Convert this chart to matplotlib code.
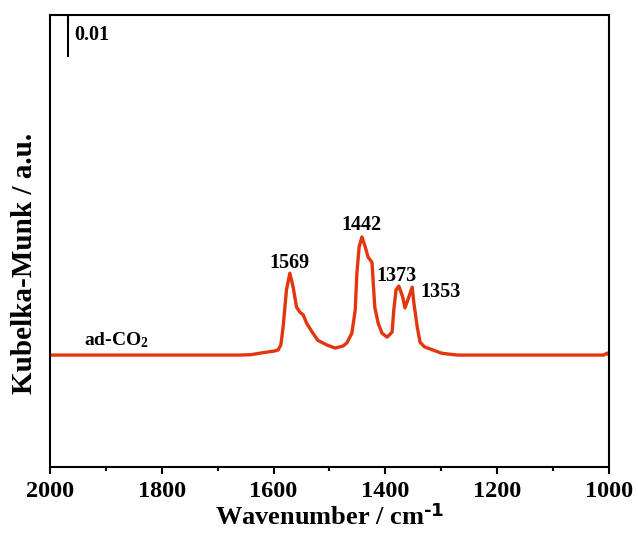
import matplotlib
matplotlib.use('Agg')
import matplotlib.pyplot as plt
from matplotlib.ticker import MultipleLocator

plt.rcParams['font.family'] = 'Liberation Serif'
plt.rcParams['font.weight'] = 'bold'
plt.rcParams['mathtext.default'] = 'regular'

# DRIFTS spectrum, ad-CO2
wavenumber = [2000, 1950, 1900, 1850, 1800, 1750, 1700, 1660, 1640, 1624,
              1610, 1600, 1592, 1587, 1583, 1577, 1571, 1565, 1559, 1553,
              1547, 1541, 1531, 1521, 1505, 1490, 1476, 1469, 1460, 1454,
              1451, 1447, 1442, 1436, 1431, 1424, 1419, 1413, 1406, 1397,
              1388, 1385, 1381, 1376, 1369, 1365, 1360, 1352, 1349, 1343,
              1338, 1330, 1315, 1300, 1290, 1270, 1200, 1100, 1010, 1003, 1000]
km = [0.0, 0.0, 0.0, 0.0, 0.0, 0.0, 0.0, 0.0, 0.0001, 0.0005,
      0.0008, 0.0010, 0.0013, 0.0026, 0.0072, 0.0167, 0.0210, 0.0174, 0.0123, 0.0110,
      0.0103, 0.0082, 0.0059, 0.0038, 0.0026, 0.0018, 0.0023, 0.0031, 0.0056, 0.0115,
      0.0210, 0.0277, 0.0303, 0.0277, 0.0251, 0.0238, 0.0123, 0.0082, 0.0056, 0.0046,
      0.0059, 0.0115, 0.0167, 0.0177, 0.0149, 0.0121, 0.0141, 0.0174, 0.0133, 0.0072,
      0.0033, 0.0021, 0.0013, 0.0005, 0.0003, 0.0, 0.0, 0.0, 0.0, 0.0005, 0.0]

peak_labels = ['1569', '1442', '1373', '1353']
peak_x = [1571, 1442, 1381, 1338]
peak_y = [0.0223, 0.0321, 0.0190, 0.0149]
peak_ha = ['center', 'center', 'center', 'left']

fig = plt.figure(figsize=(6.38, 5.4), dpi=100)
ax = fig.add_axes([0.0784, 0.1352, 0.8761, 0.837])

ax.plot(wavenumber, km, color='#e2360f', lw=2.4)

for lab, x, y, ha in zip(peak_labels, peak_x, peak_y, peak_ha):
    ax.text(x, y, lab, ha=ha, va='baseline', fontsize=14.5, fontweight='bold')

ax.text(1939, 0.0026, 'ad-CO$_2$', ha='left', va='baseline', fontsize=14, fontweight='bold')

# scale bar
ax.plot([1968, 1968], [0.0767, 0.0867], color='black', lw=1.5)
ax.text(1957, 0.0822, '0.01', ha='left', va='center', fontsize=14.5, fontweight='bold')

ax.set_xlim(2000, 1000)
ax.set_ylim(-0.0287, 0.0872)
ax.xaxis.set_major_locator(MultipleLocator(200))
ax.xaxis.set_minor_locator(MultipleLocator(100))
ax.set_yticks([])
ax.tick_params(axis='x', which='major', direction='out', length=5, width=1.5,
               labelsize=17.5, pad=5)
ax.tick_params(axis='x', which='minor', direction='out', length=3, width=1.5)
for sp in ax.spines.values():
    sp.set_linewidth(1.5)

ax.set_xlabel(r'Wavenumber / cm$^{\text{-1}}$', fontsize=19, fontweight='bold', labelpad=1)
ax.set_ylabel('Kubelka-Munk / a.u.', fontsize=21, fontweight='bold')
ax.yaxis.set_label_coords(-0.022, 0.451)

fig.savefig('out.png', dpi=100)
